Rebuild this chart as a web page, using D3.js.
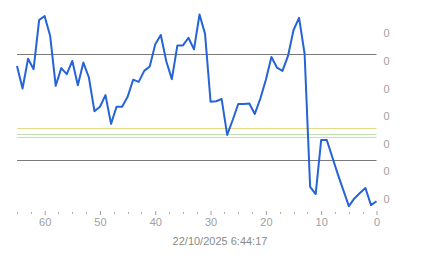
<!DOCTYPE html>
<html>
<head>
<meta charset="utf-8">
<script src="https://cdn.jsdelivr.net/npm/d3@7"></script>
<style>
  html, body { margin: 0; padding: 0; background: #fff; }
  svg { display: block; font-family: "Liberation Sans", Arial, sans-serif; }
</style>
</head>
<body>
<svg id="chart" width="443" height="258"></svg>
<script>
// ages (units back from now) and readings, oldest first
const ages = d3.range(65, -1, -1);
const values = [
  0.241, 0.200, 0.254, 0.235, 0.324, 0.331, 0.295, 0.205, 0.237, 0.226,
  0.250, 0.206, 0.247, 0.220, 0.159, 0.167, 0.188, 0.136, 0.167, 0.167,
  0.185, 0.216, 0.212, 0.232, 0.240, 0.280, 0.297, 0.249, 0.217, 0.278,
  0.278, 0.292, 0.271, 0.334, 0.299, 0.176, 0.177, 0.181, 0.116, 0.143,
  0.172, 0.172, 0.173, 0.154, 0.182, 0.216, 0.257, 0.238, 0.232, 0.259,
  0.306, 0.328, 0.263, 0.022, 0.009, 0.107, 0.107, 0.076, 0.045, 0.016,
  -0.013, 0.001, 0.011, 0.020, -0.011, -0.004
];

// reference levels
const limitLines = [0.262, 0.070];
const warnLine = [0.128];
const targetLines = [0.117, 0.112];

const yTicks = [0, 0.05, 0.1, 0.15, 0.2, 0.25, 0.3];
const xMajorTicks = [60, 50, 40, 30, 20, 10, 0];
const xMinorTicks = d3.range(0, 65.1, 2.5);
const timeLabel = "22/10/2025 6:44:17";

const margin = { left: 17, right: 67, top: 33, bottom: 59 };
const width = 443, height = 258;

const svg = d3.select("#chart");

const x = d3.scaleLinear().domain([65, 0]).range([margin.left, width - margin.right + 0.5]);
const y = d3.scaleLinear().domain([0, 0.3]).range([199, 33.3]);

// reference lines
const refs = [
  ...limitLines.map(v => ({ v, c: "#7a7a7a" })),
  ...warnLine.map(v => ({ v, c: "#e6d98a" })),
  ...targetLines.map(v => ({ v, c: "#bfe3aa" }))
];
svg.append("g")
  .selectAll("line")
  .data(refs)
  .join("line")
  .attr("x1", x(65))
  .attr("x2", x(0))
  .attr("y1", d => Math.round(y(d.v)) + 0.5)
  .attr("y2", d => Math.round(y(d.v)) + 0.5)
  .attr("stroke", d => d.c)
  .attr("stroke-width", 1);

// y labels on the right
svg.append("g")
  .attr("transform", `translate(${x(0) + 4},0)`)
  .call(d3.axisRight(y).tickValues(yTicks).tickFormat(d3.format(".0f")).tickSize(0))
  .call(g => g.select(".domain").remove())
  .call(g => g.selectAll("text")
    .attr("fill", "#a0a0a0")
    .attr("font-size", "11px")
    .attr("font-family", "Liberation Sans, Arial, sans-serif"));

// x axis: minor and major ticks, no domain line
const gx = svg.append("g").attr("transform", "translate(0,212)");
gx.selectAll("line.minor")
  .data(xMinorTicks.filter(t => t % 10 !== 0))
  .join("line")
  .attr("class", "minor")
  .attr("x1", d => Math.round(x(d)) + 0.5)
  .attr("x2", d => Math.round(x(d)) + 0.5)
  .attr("y1", 0)
  .attr("y2", 2)
  .attr("stroke", "#b0b0b0");

gx.call(d3.axisBottom(x).tickValues(xMajorTicks).tickSize(4).tickPadding(2))
  .call(g => g.select(".domain").remove())
  .call(g => g.selectAll(".tick line").attr("stroke", "#a0a0a0").attr("transform", "translate(0,-1)"))
  .call(g => g.selectAll("text")
    .attr("fill", "#a0a0a0")
    .attr("font-size", "11px")
    .attr("font-family", "Liberation Sans, Arial, sans-serif"));

svg.append("text")
  .attr("x", 220)
  .attr("y", 245)
  .attr("text-anchor", "middle")
  .attr("fill", "#8a8a8a")
  .attr("font-size", "11px")
  .text(timeLabel);

// data line
const line = d3.line()
  .x((d, i) => x(ages[i]))
  .y(d => y(d));

svg.append("path")
  .datum(values)
  .attr("d", line)
  .attr("fill", "none")
  .attr("stroke", "#2563d6")
  .attr("stroke-width", 2)
  .attr("stroke-linejoin", "round");
</script>
</body>
</html>
